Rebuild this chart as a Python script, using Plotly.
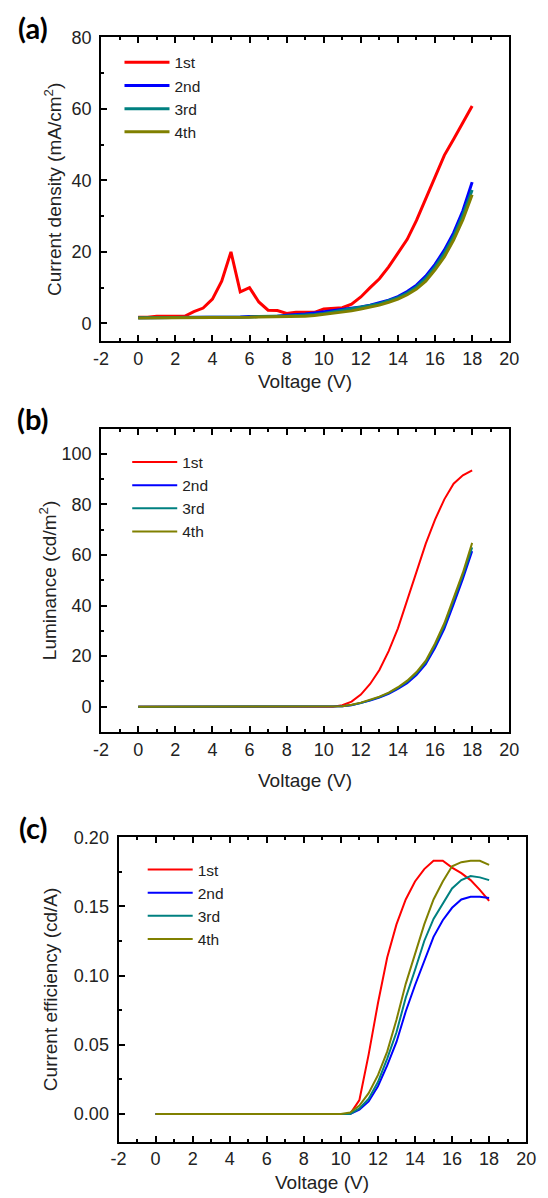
import plotly.graph_objects as go

W, H = 548, 1198
OFF = 8  # the page body margin shifts the figure by 8 px

volts = [i * 0.5 for i in range(37)]  # 0 ... 18 V
names = ["1st", "2nd", "3rd", "4th"]
colors = ["#ff0000", "#0000ff", "#008080", "#808000"]
x_ticks = list(range(-2, 21, 2))
x_ticklabels = [str(v) for v in x_ticks]  # plain hyphen for "-2"

# (a) current density, mA/cm2
j_1st = [1.7, 1.7, 2.0, 2.0, 2.0, 2.0, 3.3, 4.3, 6.8, 11.8, 20.0, 8.8, 10.0, 6.0, 3.7, 3.6,
         2.8, 3.1, 3.1, 3.1, 4.0, 4.2, 4.4, 5.4, 7.4, 10.0, 12.5, 15.8, 19.5, 23.5, 28.8,
         35.0, 41.0, 47.0, 51.5, 56.0, 60.8]
j_2nd = [1.6, 1.6, 1.6, 1.6, 1.7, 1.7, 1.7, 1.7, 1.8, 1.8, 1.8, 1.8, 1.9, 1.9, 1.9, 2.0,
         2.3, 2.4, 2.6, 2.9, 3.2, 3.5, 3.9, 4.2, 4.6, 5.1, 5.7, 6.5, 7.5, 8.9, 10.7,
         13.2, 16.5, 20.5, 25.3, 31.5, 39.5]
j_3rd = [1.6, 1.6, 1.6, 1.6, 1.6, 1.7, 1.7, 1.7, 1.7, 1.8, 1.8, 1.8, 1.8, 1.9, 1.9, 1.9,
         2.1, 2.2, 2.3, 2.5, 2.8, 3.2, 3.6, 4.0, 4.5, 5.0, 5.5, 6.3, 7.2, 8.5, 10.2,
         12.6, 15.8, 19.6, 24.3, 30.3, 37.3]
j_4th = [1.5, 1.5, 1.5, 1.5, 1.6, 1.6, 1.6, 1.6, 1.6, 1.7, 1.7, 1.7, 1.7, 1.8, 1.8, 1.8,
         1.9, 1.9, 2.0, 2.2, 2.5, 2.8, 3.1, 3.5, 4.0, 4.5, 5.1, 5.9, 6.8, 8.0, 9.6,
         11.8, 15.0, 18.6, 23.3, 29.0, 36.0]

# (b) luminance, cd/m2
zeros21 = [0.0] * 21  # 0 ... 10 V
l_1st = zeros21 + [0.0, 0.6, 2.0, 4.8, 9.0, 14.5, 22.0, 31.0, 42.0, 53.0, 64.5, 74.0, 82.0,
                   88.2, 91.5, 93.5]
l_2nd = zeros21 + [0.0, 0.2, 0.6, 1.4, 2.4, 3.6, 5.1, 7.0, 9.3, 12.5, 16.8, 23.2, 30.8,
                   40.5, 50.5, 61.5]
l_3rd = zeros21 + [0.0, 0.2, 0.7, 1.5, 2.6, 3.8, 5.4, 7.4, 9.9, 13.2, 17.6, 24.3, 32.0,
                   42.0, 52.0, 63.0]
l_4th = zeros21 + [0.0, 0.2, 0.8, 1.6, 2.8, 4.0, 5.6, 7.7, 10.3, 13.7, 18.2, 25.0, 33.0,
                   43.0, 53.0, 64.8]

# (c) current efficiency, cd/A
e_1st = zeros21 + [0.0, 0.010, 0.043, 0.080, 0.113, 0.137, 0.155, 0.168, 0.177, 0.183,
                   0.183, 0.178, 0.174, 0.169, 0.162, 0.154]
e_2nd = zeros21 + [0.0, 0.003, 0.009, 0.020, 0.035, 0.052, 0.074, 0.093, 0.111, 0.128,
                   0.140, 0.149, 0.155, 0.157, 0.157, 0.156]
e_3rd = zeros21 + [0.0, 0.004, 0.011, 0.023, 0.040, 0.059, 0.084, 0.104, 0.125, 0.141,
                   0.152, 0.163, 0.169, 0.172, 0.171, 0.169]
e_4th = zeros21 + [0.001, 0.006, 0.015, 0.028, 0.045, 0.068, 0.094, 0.116, 0.137, 0.155,
                   0.168, 0.179, 0.182, 0.183, 0.183, 0.180]

# positions below are page pixels of the reference picture
panels = [
    dict(series=[j_1st, j_2nd, j_3rd, j_4th], width=3, yrange=[-5, 80], dtick=20, minor=10,
         fmt="", box=(96, 518, 27.5, 334), label="(a)",
         ytitle="Current density (mA/cm<sup>2</sup>)", ytx=47, xty=375,
         leg=(115, 36)),
    dict(series=[l_1st, l_2nd, l_3rd, l_4th], width=2, yrange=[-10, 110], dtick=20, minor=10,
         fmt="", box=(96, 518, 422, 728), label="(b)",
         ytitle="Luminance (cd/m<sup>2</sup>)", ytx=41, xty=777,
         leg=(123, 439)),
    dict(series=[e_1st, e_2nd, e_3rd, e_4th], width=2, yrange=[-0.02, 0.2001], dtick=0.05,
         minor=0.025, fmt=".2f", box=(114, 535.5, 834, 1141), label="(c)",
         ytitle="Current efficiency (cd/A)", ytx=44, xty=1182,
         leg=(139, 850)),
]


def fx(px):
    return (px - OFF) / W


def fy(py):
    return 1 - (py - OFF) / H


font = "Liberation Sans, Arial, sans-serif"
fig = go.Figure()
annotations = []

for k, p in enumerate(panels):
    n = "" if k == 0 else str(k + 1)
    legname = "legend" if k == 0 else "legend" + str(k + 1)
    for s, (name, col, ys) in enumerate(zip(names, colors, p["series"])):
        fig.add_trace(go.Scatter(
            x=volts, y=ys, mode="lines", name=name,
            line=dict(color=col, width=p["width"]),
            xaxis="x" + n, yaxis="y" + n, legend=legname))

    x0, x1, y0, y1 = p["box"]
    axis_common = dict(showline=True, linewidth=2, linecolor="black", ticks="inside",
                       ticklen=6, tickwidth=2, tickcolor="black", showgrid=False,
                       zeroline=False, tickfont=dict(family=font, size=18, color="#222"))
    fig.update_layout({
        "xaxis" + n: dict(axis_common, domain=[fx(x0), fx(x1)], range=[-2, 20],
                          tickmode="array", tickvals=x_ticks, ticktext=x_ticklabels,
                          mirror="ticks", anchor="y" + n,
                          minor=dict(dtick=1, tick0=0, ticklen=3, tickwidth=2,
                                     ticks="inside", tickcolor="black")),
        "yaxis" + n: dict(axis_common, domain=[fy(y1), fy(y0)], range=p["yrange"],
                          dtick=p["dtick"], tick0=0, tickformat=p["fmt"], mirror=True,
                          anchor="x" + n, ticklabelstandoff=4,
                          minor=dict(dtick=p["minor"], ticklen=3, tickwidth=2,
                                     ticks="inside", tickcolor="black")),
        legname: dict(x=fx(p["leg"][0]), y=fy(p["leg"][1]), xanchor="left",
                      yanchor="top", bgcolor="rgba(0,0,0,0)", tracegroupgap=0,
                      itemwidth=45,
                      font=dict(family=font, size=15.5, color="#222")),
    })

    annotations.append(dict(text=p["ytitle"], x=fx(p["ytx"]), y=fy((y0 + y1) / 2),
                            xref="paper", yref="paper", textangle=-90, showarrow=False,
                            xanchor="center", yanchor="middle",
                            font=dict(family=font, size=19, color="#222")))
    annotations.append(dict(text="Voltage (V)", x=fx((x0 + x1) / 2), y=fy(p["xty"]),
                            xref="paper", yref="paper", showarrow=False,
                            xanchor="center", yanchor="middle",
                            font=dict(family=font, size=19, color="#222")))
    annotations.append(dict(text="<b>" + p["label"] + "</b>", x=fx(26),
                            y=fy(y0 - 10), xref="paper", yref="paper",
                            showarrow=False, xanchor="center", yanchor="middle",
                            font=dict(family="Lato, sans-serif", size=29, color="black")))

fig.update_layout(width=W, height=H, margin=dict(l=0, r=0, t=0, b=0),
                  paper_bgcolor="white", plot_bgcolor="white", showlegend=True,
                  annotations=annotations)

fig.write_html("out.html")
